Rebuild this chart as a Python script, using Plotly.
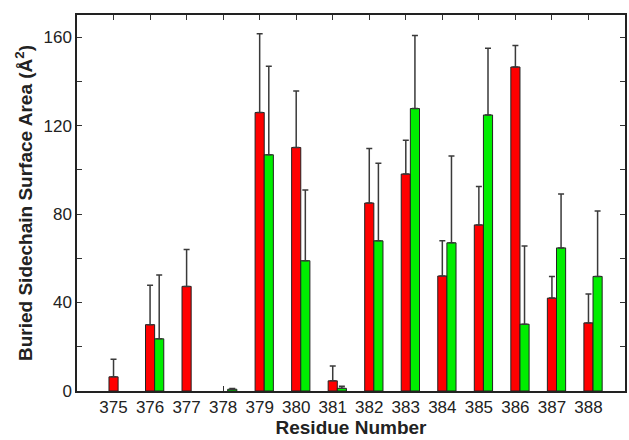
import plotly.graph_objects as go

residues = [375, 376, 377, 378, 379, 380, 381, 382, 383, 384, 385, 386, 387, 388]
red_vals = [6.4, 30.0, 47.3, None, 125.9, 110.1, 4.6, 85.0, 98.1, 52.0, 75.1, 146.5, 42.0, 30.8]
red_errs = [8.0, 17.8, 16.7, 0.0, 35.6, 25.5, 6.7, 24.6, 15.3, 15.9, 17.4, 9.7, 9.8, 13.1]
green_vals = [None, 23.6, None, 0.8, 106.8, 58.9, 1.2, 67.9, 127.7, 67.0, 124.8, 30.2, 64.7, 51.8]
green_errs = [0.0, 28.8, 0.0, 0.3, 40.0, 32.0, 1.0, 35.1, 33.0, 39.2, 30.2, 35.4, 24.4, 29.6]
y_ticks = [0, 40, 80, 120, 160]
y_minor = [20, 60, 100, 140]

fig = go.Figure()
err_style = dict(type="data", symmetric=False, color="#3a3a3a", thickness=1.5, width=3)

fig.add_trace(go.Bar(
    x=residues, y=red_vals, width=0.25, offset=-0.125,
    marker=dict(color="#ff0000", line=dict(color="#222222", width=1)),
    error_y=dict(array=red_errs, arrayminus=[0] * len(red_errs), **err_style),
    showlegend=False,
))
fig.add_trace(go.Bar(
    x=residues, y=green_vals, width=0.25, offset=0.125,
    marker=dict(color="#00ee00", line=dict(color="#222222", width=1)),
    error_y=dict(array=green_errs, arrayminus=[0] * len(green_errs), **err_style),
    showlegend=False,
))

fig.update_layout(
    width=629, height=440,
    margin=dict(l=77, r=2, t=15, b=49),
    plot_bgcolor="white", paper_bgcolor="white",
    font=dict(family="Liberation Sans, Arial, sans-serif", size=17, color="#222222"),
    barmode="overlay",
)
fig.update_xaxes(
    range=[374, 389], tickvals=residues, ticktext=[str(r) for r in residues],
    ticks="inside", ticklen=5, tickcolor="#333", mirror="ticks",
    showline=True, linecolor="#222", linewidth=1.5, showgrid=False, zeroline=False,
    layer="below traces", tickfont=dict(size=17),
    title=dict(text="<b>Residue Number</b>", font=dict(size=19), standoff=2),
)
fig.update_yaxes(
    range=[0, 170], tickvals=y_ticks,
    ticks="inside", ticklen=5, tickcolor="#333", mirror="ticks",
    minor=dict(ticks="inside", tickvals=y_minor, ticklen=5, tickcolor="#333"),
    showline=True, linecolor="#222", linewidth=1.5, showgrid=False, zeroline=False,
    layer="below traces", tickfont=dict(size=17),
    title=dict(text="<b>Buried Sidechain Surface Area (Å<sup>2</sup>)</b>", font=dict(size=19), standoff=6),
)

fig.write_html("out.html")
